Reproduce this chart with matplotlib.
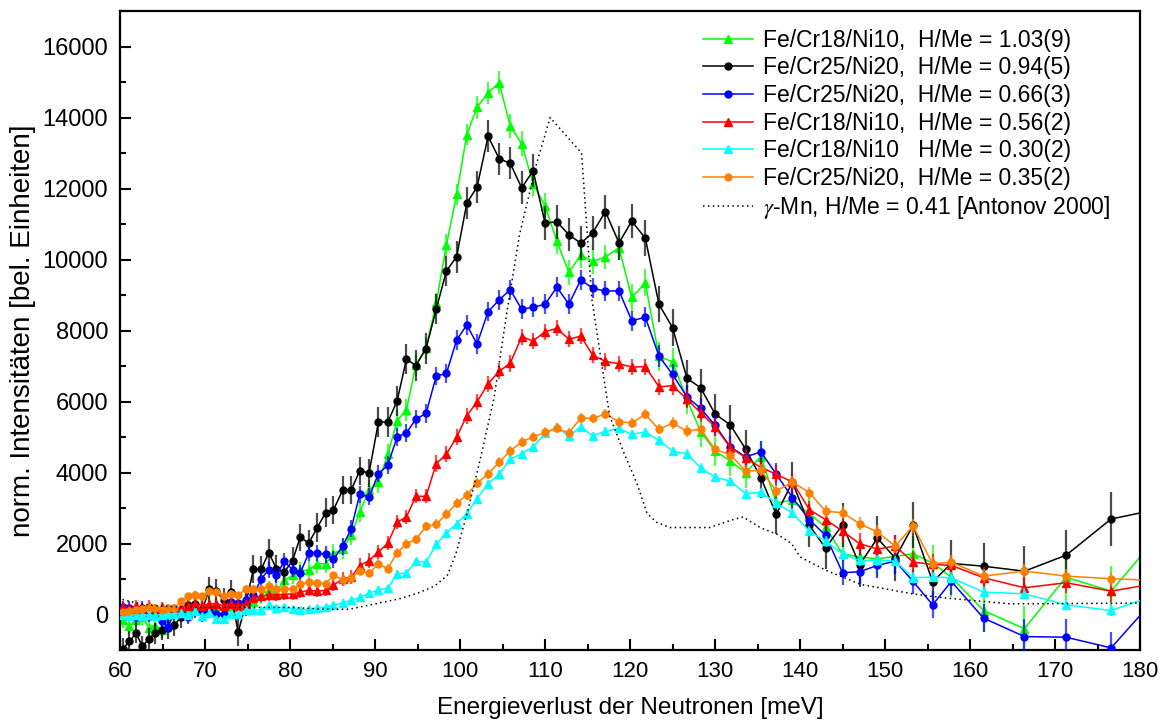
import matplotlib
matplotlib.use("Agg")
import matplotlib.pyplot as plt
from matplotlib.ticker import MultipleLocator

plt.rcParams["font.family"] = ["Liberation Sans", "DejaVu Sans"]
plt.rcParams["mathtext.fontset"] = "stix"

#######################################################
# DATA

# common energy grid of the measured spectra [meV]
energy = [
    60.3, 61.1, 61.9, 62.6, 63.4, 64.1, 64.9, 65.6, 66.4, 67.2,
    68.0, 68.8, 69.6, 70.5, 71.3, 72.2, 73.0, 73.9, 74.8, 75.7,
    76.6, 77.5, 78.4, 79.3, 80.3, 81.2, 82.2, 83.2, 84.2, 85.1,
    86.2, 87.2, 88.2, 89.3, 90.4, 91.5, 92.6, 93.7, 94.8, 96.0,
    97.2, 98.4, 99.6, 100.8, 102.0, 103.3, 104.6, 105.9, 107.25, 108.6,
    110.0, 111.4, 112.8, 114.2, 115.6, 117.1, 118.7, 120.2, 121.8, 123.4,
    125.0, 126.7, 128.3, 130.0, 131.8, 133.6, 135.4, 137.2, 139.1, 141.1,
    143.0, 145.0, 147.0, 149.1, 151.2, 153.3, 155.6, 157.8, 161.6, 166.4,
    171.3, 176.6, 182.0,
]

green_y = [
    -150, -330, -150, -80, -370, -310, -430, -280, 60, 110,
    150, 160, 200, 280, 250, 110, 200, 200, 250, 350,
    560, 680, 630, 960, 1100, 1240, 1250, 1430, 1430, 1710,
    1850, 2230, 2890, 3500, 3730, 4510, 5460, 5760, 7030, 7500,
    8770, 10410, 11840, 13520, 14290, 14690, 14980, 13760, 13260, 12130,
    11510, 10510, 9640, 10120, 9950, 10070, 10330, 8930, 9340, 7270,
    7120, 6060, 5150, 4610, 4320, 4000, 4450, 3140, 3220, 2840,
    2460, 1710, 1620, 1570, 1640, 1710, 1450, 1050, 110, -400,
    1050, 660, 2180,
]
green_err = [
    220, 220, 200, 220, 220, 200, 220, 200, 220, 220,
    200, 220, 200, 220, 220, 200, 220, 220, 220, 250,
    250, 250, 250, 250, 250, 250, 270, 270, 270, 270,
    280, 280, 280, 280, 300, 300, 300, 300, 300, 300,
    300, 300, 300, 300, 320, 320, 320, 350, 350, 350,
    350, 350, 350, 350, 350, 350, 350, 380, 380, 400,
    400, 400, 420, 420, 420, 450, 450, 450, 450, 450,
    450, 480, 500, 500, 500, 500, 520, 550, 600, 650,
    650, 700, 700,
]

black_y = [
    -968, -760, -520, -900, -680, -530, -430, -380, -300, -60,
    270, 300, 80, 720, 660, 400, 630, -500, 300, 1280,
    1270, 1740, 1290, 1190, 1520, 2180, 2010, 2450, 2870, 2940,
    3510, 3510, 4050, 3990, 5420, 5420, 6020, 7200, 7010, 7490,
    8600, 9680, 10080, 11590, 12040, 13470, 12840, 12710, 12020, 12500,
    11030, 11060, 10700, 10460, 10750, 11350, 10470, 11080, 10600, 8740,
    8080, 6650, 6390, 5650, 5340, 4660, 3850, 2820, 3730, 2510,
    1870, 2530, 1400, 2150, 1590, 2510, 920, 1440, 1360, 1220,
    1670, 2690, 2960,
]
black_err = [
    300, 300, 280, 300, 300, 300, 280, 300, 300, 320,
    300, 350, 300, 350, 350, 350, 350, 400, 350, 400,
    380, 380, 380, 380, 380, 380, 380, 400, 400, 400,
    400, 400, 400, 400, 420, 420, 420, 430, 430, 430,
    430, 430, 450, 450, 450, 450, 450, 450, 470, 470,
    470, 470, 470, 470, 480, 480, 480, 480, 500, 500,
    520, 520, 520, 550, 550, 550, 560, 560, 580, 600,
    600, 620, 620, 620, 650, 650, 650, 650, 650, 700,
    700, 750, 750,
]

blue_y = [
    206, 188, -75, 188, -30, 0, -170, -340, 20, 66,
    -75, 113, 66, 113, 20, 20, 348, 330, 395, 536,
    1007, 1260, 1100, 1500, 1265, 1166, 1730, 1741, 1693, 1552,
    1928, 2418, 3386, 3311, 3970, 4205, 5004, 5116, 5503, 5663,
    6716, 6792, 7732, 8156, 7619, 8531, 8861, 9150, 8599, 8655,
    8740, 9219, 8740, 9426, 9191, 9110, 9120, 8277, 8372, 7281,
    6764, 6132, 5805, 5334, 4721, 4440, 4580, 3951, 3293, 2672,
    2229, 1177, 1204, 1383, 1504, 931, 273, 931, -104, -621,
    -640, -940, 510,
]
blue_err = [
    180, 180, 180, 180, 180, 180, 180, 180, 180, 180,
    180, 200, 200, 200, 200, 200, 200, 200, 200, 220,
    220, 220, 220, 220, 220, 220, 230, 230, 230, 230,
    240, 240, 240, 240, 250, 250, 250, 250, 250, 260,
    260, 260, 270, 270, 270, 270, 280, 280, 280, 280,
    280, 280, 280, 280, 280, 280, 280, 280, 280, 300,
    300, 300, 300, 300, 300, 320, 320, 320, 320, 330,
    330, 350, 350, 350, 350, 350, 380, 380, 400, 500,
    500, 450, 450,
]

red_y = [
    200, 150, 250, 150, 250, 150, 200, 150, 150, 200,
    250, 300, 250, 300, 300, 250, 300, 250, 300, 470,
    510, 560, 555, 565, 580, 630, 680, 660, 680, 820,
    1010, 1050, 1380, 1520, 1760, 2010, 2600, 2750, 3330, 3330,
    4250, 4515, 5000, 5600, 5990, 6500, 6850, 7075, 7826, 7704,
    7967, 8062, 7752, 7845, 7309, 7130, 7065, 6970, 6980, 6415,
    6443, 6067, 5681, 5286, 4704, 4422, 4140, 3951, 3734, 2955,
    2672, 2351, 1995, 1843, 1928, 1476, 1411, 1383, 1036, 753,
    895, 658, 880,
]
red_err = [
    150, 150, 150, 150, 150, 150, 150, 150, 150, 150,
    150, 150, 150, 150, 150, 150, 150, 150, 150, 150,
    170, 170, 170, 170, 170, 170, 170, 170, 170, 170,
    200, 200, 200, 200, 200, 200, 200, 200, 200, 200,
    230, 230, 230, 230, 230, 230, 230, 230, 230, 230,
    230, 230, 230, 230, 230, 230, 230, 230, 230, 230,
    250, 250, 250, 250, 250, 250, 250, 250, 250, 250,
    300, 300, 300, 300, 300, 300, 300, 300, 300, 300,
    300, 300, 300,
]

cyan_y = [
    0, -28, 0, -56, 0, -28, 0, 19, 20, 38,
    0, 94, -56, 56, -122, -122, 20, 20, 132, 132,
    132, 254, 188, 206, 160, 132, 150, 180, 220, 260,
    330, 400, 480, 600, 696, 743, 1148, 1166, 1504, 1476,
    1975, 2300, 2559, 2842, 3264, 3688, 3951, 4370, 4535, 4722,
    5100, 5287, 5023, 5287, 5032, 5164, 5240, 5075, 5145, 4910,
    4600, 4535, 4129, 3866, 3757, 3406, 3440, 3141, 2860, 2351,
    2060, 1713, 1524, 1524, 1504, 1036, 1053, 1036, 630, 584,
    273, 113, 560,
]
cyan_err = [
    90, 90, 90, 90, 90, 90, 90, 90, 90, 90,
    90, 90, 90, 90, 90, 90, 90, 90, 90, 90,
    90, 90, 90, 90, 90, 90, 90, 90, 90, 90,
    100, 100, 100, 100, 100, 100, 100, 100, 100, 100,
    110, 110, 110, 110, 110, 110, 110, 110, 110, 110,
    110, 110, 110, 110, 110, 110, 110, 110, 110, 110,
    130, 130, 130, 130, 130, 130, 130, 130, 130, 130,
    150, 150, 150, 150, 150, 150, 150, 150, 160, 160,
    160, 160, 160,
]

orange_y = [
    66, 110, 130, 150, 206, 188, 132, 179, 180, 376,
    508, 555, 518, 659, 630, 508, 583, 536, 725, 725,
    725, 790, 725, 725, 725, 850, 912, 884, 866, 1100,
    980, 1036, 1222, 1166, 1430, 1289, 1741, 1995, 2117, 2483,
    2540, 2830, 3130, 3370, 3700, 3960, 4290, 4609, 4862, 5003,
    5128, 5241, 5116, 5530, 5522, 5650, 5427, 5399, 5635, 5215,
    5390, 5164, 5221, 4650, 4497, 4044, 4060, 3480, 3734, 3434,
    2907, 2870, 2559, 2323, 1928, 2493, 1430, 1476, 1082, 1223,
    1082, 1007, 960,
]
orange_err = [
    100, 100, 100, 100, 100, 100, 100, 100, 100, 100,
    100, 100, 100, 100, 100, 100, 100, 100, 100, 100,
    110, 110, 110, 110, 110, 110, 110, 110, 110, 110,
    120, 120, 120, 120, 120, 120, 120, 120, 120, 120,
    140, 140, 140, 140, 140, 140, 140, 140, 140, 140,
    140, 140, 140, 140, 140, 140, 140, 140, 140, 140,
    170, 170, 170, 170, 170, 170, 170, 170, 170, 170,
    190, 190, 190, 190, 190, 190, 190, 190, 200, 200,
    200, 200, 200,
]

# gamma-Mn reference curve (Antonov 2000)
mn_energy = [
    58, 60, 62, 64, 68, 75, 80, 84, 87, 90,
    93, 95, 97, 98.5, 99.5, 101, 102.5, 104, 105.5, 107,
    109, 110.6, 114.3, 115.5, 116.7, 117.6, 119.2, 120.8, 122, 123.1,
    124.7, 129.4, 131.8, 133.3, 135.3, 137.3, 139, 140, 143.1, 147.1,
    153.3, 156.9, 164.7, 180,
]
mn_y = [
    480, 440, 320, 250, 200, 200, 200, 150, 150, 300,
    450, 600, 800, 1100, 1700, 3000, 4500, 6100, 8500, 10700,
    12700, 14000, 13000, 8900, 7000, 5600, 4600, 3700, 2850, 2600,
    2450, 2450, 2650, 2750, 2450, 2260, 2000, 1620, 1240, 850,
    580, 470, 300, 320,
]

labels = [
    "Fe/Cr18/Ni10,  H/Me = 1.03(9)",
    "Fe/Cr25/Ni20,  H/Me = 0.94(5)",
    "Fe/Cr25/Ni20,  H/Me = 0.66(3)",
    "Fe/Cr18/Ni10,  H/Me = 0.56(2)",
    "Fe/Cr18/Ni10   H/Me = 0.30(2)",
    "Fe/Cr25/Ni20,  H/Me = 0.35(2)",
]
mn_label = r"$\gamma$-Mn, H/Me = 0.41 [Antonov 2000]"

#######################################################
# FIGURE

fig = plt.figure(figsize=(11.62, 7.24), dpi=100)
ax = fig.add_axes([0.1033, 0.1022, 0.8778, 0.8826])

series = [
    (green_y, green_err, "#00ff00", "^"),
    (black_y, black_err, "#000000", "o"),
    (blue_y, blue_err, "#0000ff", "o"),
    (red_y, red_err, "#ff0000", "^"),
    (cyan_y, cyan_err, "#00ffff", "^"),
    (orange_y, orange_err, "#ff8000", "o"),
]

z = 2
for (yv, ev, col, mk), lab in zip(series, labels):
    ax.errorbar(
        energy, yv, yerr=ev,
        fmt="none", ecolor=col, elinewidth=1.6,
        alpha=0.7, capsize=0, zorder=z
    )
    ms = 6 if mk == "^" else 5
    ax.plot(
        energy, yv,
        color=col, marker=mk, markersize=ms,
        linewidth=1.1, label=lab, zorder=z + 0.5
    )
    z += 1

ax.plot(
    mn_energy, mn_y,
    color="black", linestyle=(0, (1, 2.2)), linewidth=1.1,
    label=mn_label, zorder=z + 1
)

ax.set_xlim(60, 180)
ax.set_ylim(-1000, 17000)

ax.xaxis.set_major_locator(MultipleLocator(10))
ax.xaxis.set_minor_locator(MultipleLocator(5))
ax.yaxis.set_major_locator(MultipleLocator(2000))
ax.yaxis.set_minor_locator(MultipleLocator(1000))

ax.tick_params(
    which="both", direction="in", top=False, right=False, width=1.5
)
ax.tick_params(which="major", length=8)
ax.tick_params(which="minor", length=4)
ax.tick_params(axis="x", labelsize=16, pad=8)
ax.tick_params(axis="y", labelsize=17, pad=8.5)

for sp in ax.spines.values():
    sp.set_linewidth(1.6)

ax.set_xlabel("Energieverlust der Neutronen [meV]", fontsize=17.5, labelpad=11)
ax.set_ylabel("norm. Intensitäten [bel. Einheiten]", fontsize=20, labelpad=5)

ax.legend(
    loc="upper left", frameon=False, fontsize=16.5,
    numpoints=1, handlelength=2.2, handletextpad=0.4,
    labelspacing=0.2, borderpad=0.0, borderaxespad=0.0,
    bbox_to_anchor=(0.5716, 0.972)
)

plt.savefig("out.png", dpi=100)
plt.close()
